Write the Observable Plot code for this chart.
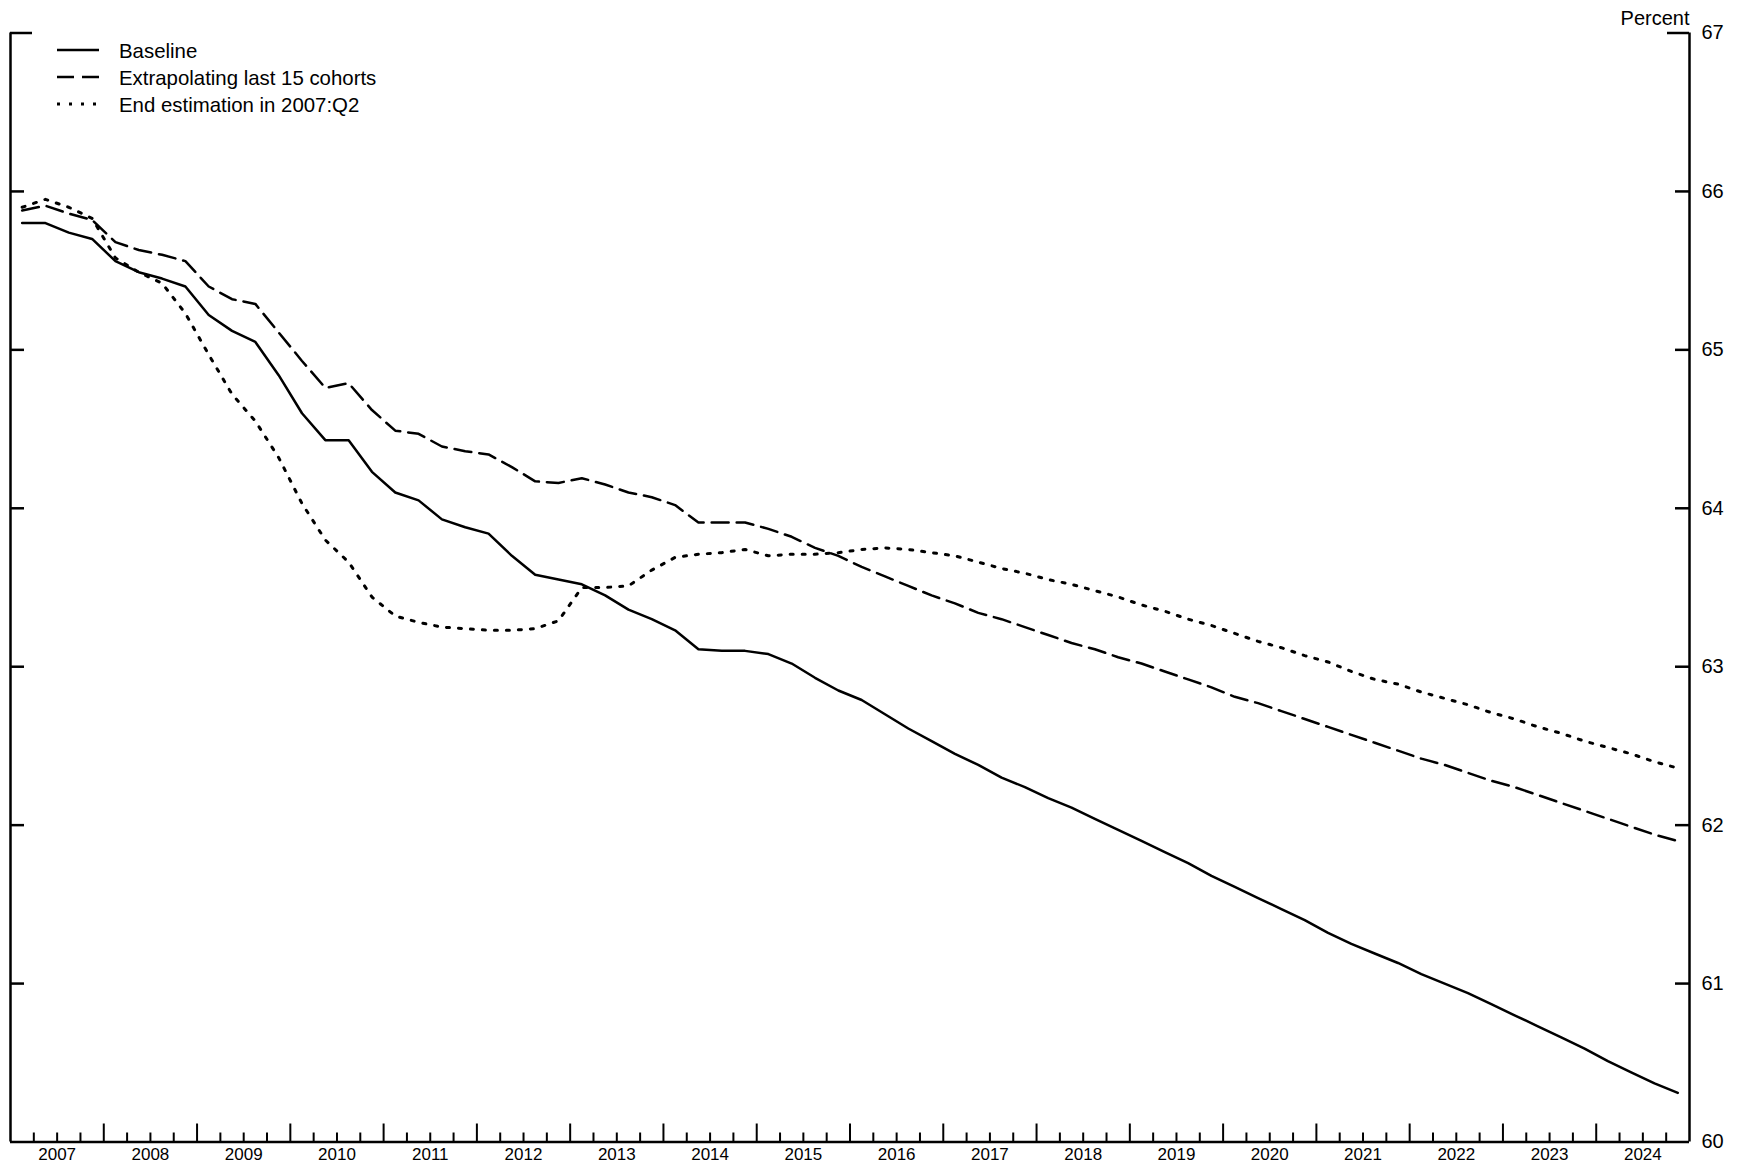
<!DOCTYPE html>
<html><head><meta charset="utf-8">
<script src="https://cdn.jsdelivr.net/npm/d3@7"></script>
<script src="https://cdn.jsdelivr.net/npm/@observablehq/plot@0.6"></script>
<style>
body{margin:0;background:#fff;}
#wrap{position:relative;width:1741px;height:1167px;font-family:"Liberation Sans",Arial,Helvetica,sans-serif;}
#legend{position:absolute;left:0;top:0;}
</style></head><body>
<div id="wrap"></div>
<script>
// ---- Data (quarterly, 2007:Q1 .. 2024:Q4), percent ----
const years = d3.range(2007, 2025);
const quarters = years.flatMap(y => [1, 2, 3, 4].map(q => `${y}:Q${q}`));

const baseline = [
  65.80, 65.80, 65.74, 65.70,
  65.56, 65.49, 65.45, 65.40,
  65.22, 65.12, 65.05, 64.84,
  64.60, 64.43, 64.43, 64.23,
  64.10, 64.05, 63.93, 63.88,
  63.84, 63.70, 63.58, 63.55,
  63.52, 63.45, 63.36, 63.30,
  63.23, 63.11, 63.10, 63.10,
  63.08, 63.02, 62.93, 62.85,
  62.79, 62.70, 62.61, 62.53,
  62.45, 62.38, 62.30, 62.24,
  62.17, 62.11, 62.04, 61.97,
  61.90, 61.83, 61.76, 61.68,
  61.61, 61.54, 61.47, 61.40,
  61.32, 61.25, 61.19, 61.13,
  61.06, 61.00, 60.94, 60.87,
  60.80, 60.73, 60.66, 60.59,
  60.51, 60.44, 60.37, 60.31
];
const extrapolating = [
  65.88, 65.91, 65.86, 65.82,
  65.68, 65.63, 65.60, 65.56,
  65.40, 65.32, 65.29, 65.11,
  64.93, 64.76, 64.79, 64.62,
  64.49, 64.47, 64.39, 64.36,
  64.34, 64.26, 64.17, 64.16,
  64.19, 64.15, 64.10, 64.07,
  64.02, 63.91, 63.91, 63.91,
  63.87, 63.82, 63.75, 63.70,
  63.63, 63.57, 63.51, 63.45,
  63.40, 63.34, 63.30, 63.25,
  63.20, 63.15, 63.11, 63.06,
  63.02, 62.97, 62.92, 62.87,
  62.81, 62.77, 62.72, 62.67,
  62.62, 62.57, 62.52, 62.47,
  62.42, 62.38, 62.33, 62.28,
  62.24, 62.19, 62.14, 62.09,
  62.04, 61.99, 61.94, 61.90
];
const endEstimation = [
  65.90, 65.95, 65.90, 65.83,
  65.58, 65.49, 65.42, 65.23,
  64.97, 64.72, 64.55, 64.32,
  64.03, 63.80, 63.66, 63.44,
  63.32, 63.28, 63.25, 63.24,
  63.23, 63.23, 63.24, 63.29,
  63.50, 63.50, 63.51, 63.61,
  63.69, 63.71, 63.72, 63.74,
  63.70, 63.71, 63.71, 63.72,
  63.74, 63.75, 63.74, 63.72,
  63.70, 63.66, 63.62, 63.59,
  63.55, 63.52, 63.48, 63.44,
  63.39, 63.35, 63.30, 63.26,
  63.21, 63.16, 63.12, 63.07,
  63.03, 62.97, 62.92, 62.89,
  62.84, 62.80, 62.76, 62.71,
  62.67, 62.62, 62.58, 62.53,
  62.49, 62.45, 62.40, 62.36
];
const seriesNames = ["Baseline", "Extrapolating last 15 cohorts", "End estimation in 2007:Q2"];
const yTicks = [60, 61, 62, 63, 64, 65, 66, 67];
const yearLabels = years.map(String);
const unitLabel = "Percent";

// ---- Build tables ----
// each quarter plotted at its midpoint in decimal years
const qTime = q => { const [y, qq] = q.split(":Q"); return +y + (+qq - 1) / 4 + 0.125; };
const toRows = (vals, name) => quarters.map((q, i) => ({series: name, t: qTime(q), value: vals[i]}));
const rowsBase = toRows(baseline, seriesNames[0]);
const rowsExt = toRows(extrapolating, seriesNames[1]);
const rowsEnd = toRows(endEstimation, seriesNames[2]);
const yearMids = years.map(y => y + 0.5);
const yearBounds = years.slice(1);
const quarterBounds = years.flatMap(y => [y + 0.25, y + 0.5, y + 0.75]);

// ---- Layout ----
const W = 1741, H = 1167, mL = 10, mR = 52, mT = 32.5, mB = 25.5;
const pw = W - mL - mR, ph = H - mT - mB;
const font = '"Liberation Sans", Arial, Helvetica, sans-serif';
const SW = 2.5;
const styles = [
  {strokeDasharray: null, strokeWidth: 2.5},
  {strokeDasharray: "17,8", strokeWidth: 2.5},
  {strokeDasharray: "3,9", strokeWidth: 3}
];

const chart = Plot.plot({
  width: W, height: H,
  marginLeft: mL, marginRight: mR, marginTop: mT, marginBottom: mB,
  style: {fontFamily: font, fontSize: "20px", color: "#000", background: "#fff", overflow: "visible"},
  x: {domain: [years[0], years[years.length - 1] + 1], axis: null},
  y: {domain: [yTicks[0], yTicks[yTicks.length - 1]], axis: null},
  marks: [
    Plot.axisX(yearMids, {anchor: "bottom", tickSize: 0, tickPadding: 6, fontSize: 17,
      tickFormat: d => yearLabels[years.indexOf(Math.floor(d))], label: null}),
    Plot.axisY(yTicks, {anchor: "right", tickSize: 0, tickPadding: 12, fontSize: 20,
      tickFormat: d => String(d), label: null}),
    Plot.text([unitLabel], {frameAnchor: "top-right", text: d => d, textAnchor: "end",
      lineAnchor: "top", dy: -22.5, fontSize: 20, fill: "#000"}),
    // frame: left, right, bottom
    Plot.ruleX([years[0], years[years.length - 1] + 1], {stroke: "#000", strokeWidth: SW}),
    Plot.ruleY([yTicks[0]], {stroke: "#000", strokeWidth: SW}),
    // inward y ticks on both sides
    Plot.tickY(yTicks.slice(1, -1), {y: d => d, insetRight: pw - 14, stroke: "#000", strokeWidth: SW}),
    Plot.tickY(yTicks.slice(1, -1), {y: d => d, insetLeft: pw - 14, stroke: "#000", strokeWidth: SW}),
    Plot.tickY(yTicks.slice(-1), {y: d => d, insetRight: pw - 22, stroke: "#000", strokeWidth: SW}),
    Plot.tickY(yTicks.slice(-1), {y: d => d, insetLeft: pw - 22, stroke: "#000", strokeWidth: SW}),
    // x ticks pointing up
    Plot.tickX(yearBounds, {x: d => d, insetTop: ph - 18, stroke: "#000", strokeWidth: 2}),
    Plot.tickX(quarterBounds, {x: d => d, insetTop: ph - 9, stroke: "#000", strokeWidth: 2}),
    // series
    Plot.line(rowsBase, {x: "t", y: "value", stroke: "#000", ...styles[0]}),
    Plot.line(rowsExt, {x: "t", y: "value", stroke: "#000", ...styles[1]}),
    Plot.line(rowsEnd, {x: "t", y: "value", stroke: "#000", ...styles[2]})
  ]
});
document.getElementById("wrap").appendChild(chart);

// ---- Legend (overlay, top-left inside the frame) ----
const ns = "http://www.w3.org/2000/svg";
const leg = document.createElementNS(ns, "svg");
leg.setAttribute("id", "legend");
leg.setAttribute("width", 420);
leg.setAttribute("height", 130);
seriesNames.forEach((name, i) => {
  const yLine = 50 + i * 27;
  const ln = document.createElementNS(ns, "line");
  ln.setAttribute("x1", 57); ln.setAttribute("x2", 99);
  ln.setAttribute("y1", yLine); ln.setAttribute("y2", yLine);
  ln.setAttribute("stroke", "#000");
  ln.setAttribute("stroke-width", styles[i].strokeWidth);
  if (styles[i].strokeDasharray) ln.setAttribute("stroke-dasharray", styles[i].strokeDasharray);
  leg.appendChild(ln);
  const tx = document.createElementNS(ns, "text");
  tx.setAttribute("x", 119); tx.setAttribute("y", yLine + 8);
  tx.setAttribute("font-family", font);
  tx.setAttribute("font-size", 20.4);
  tx.setAttribute("fill", "#000");
  tx.textContent = name;
  leg.appendChild(tx);
});
document.getElementById("wrap").appendChild(leg);
</script>
</body></html>
